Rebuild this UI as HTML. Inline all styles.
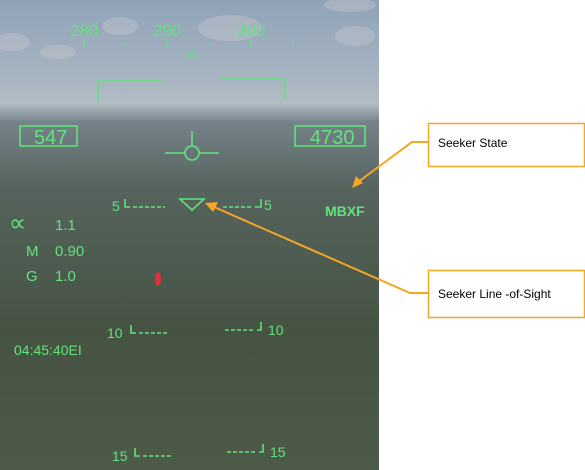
<!DOCTYPE html>
<html><head><meta charset="utf-8"><style>
html,body{margin:0;padding:0;background:#fff;width:585px;height:470px;overflow:hidden}
svg{display:block}
text{font-family:"Liberation Sans",sans-serif}
.h{fill:#62e27c;font-family:"Liberation Sans",sans-serif}
.hl{stroke:#62e27c;fill:none;stroke-width:1.6}
.lab{font-size:12px;fill:#000}
</style></head><body>
<svg width="585" height="470">
<defs>
<linearGradient id="bg" x1="0" y1="0" x2="0" y2="1">
<stop offset="0" stop-color="#8fa3b8"/>
<stop offset="0.18" stop-color="#aab6c2"/>
<stop offset="0.22" stop-color="#b2bcc3"/>
<stop offset="0.26" stop-color="#75838a"/>
<stop offset="0.4" stop-color="#56645e"/>
<stop offset="0.7" stop-color="#465343"/>
<stop offset="1" stop-color="#4d5a48"/>
</linearGradient>
</defs>
<rect x="0" y="0" width="379" height="470" fill="url(#bg)"/>
<g fill="#c4c4cc" opacity="0.45">
<ellipse cx="120" cy="26" rx="18" ry="9"/><ellipse cx="230" cy="28" rx="32" ry="13"/><ellipse cx="12" cy="42" rx="18" ry="9"/><ellipse cx="58" cy="52" rx="18" ry="7"/><ellipse cx="355" cy="36" rx="20" ry="10"/><ellipse cx="350" cy="5" rx="26" ry="7"/>
</g>
<g>
<text class="h" x="70" y="36" font-size="17">280</text>
<text class="h" x="153" y="36" font-size="17">290</text>
<text class="h" x="237" y="36" font-size="17">300</text>
<path class="hl" d="M84 40v7M126 43v3M167 40v7M209 43v3M251 40v7M293 43v3M188 57l4-6l4 6"/>
</g>
<path class="hl" d="M98 101v-20h64M220 79h65v20"/>
<g><rect class="hl" x="20" y="126" width="57" height="20"/><text class="h" x="34" y="144" font-size="20">547</text></g>
<g><rect class="hl" x="295" y="126" width="70" height="20"/><text class="h" x="310" y="144" font-size="20">4730</text></g>
<g><circle class="hl" cx="192" cy="153" r="7"/><path class="hl" d="M165 153h20M199 153h20M192 146v-15"/></g>
<g>
<text class="h" x="112" y="211" font-size="14">5</text><path class="hl" d="M125 199v8h5"/><path class="hl" d="M133 207h32" stroke-dasharray="4 2"/>
<path class="hl" d="M223 207h30" stroke-dasharray="4 2"/><path class="hl" d="M255 207h6v-8"/><text class="h" x="264" y="210" font-size="14">5</text>
<text class="h" x="107" y="338" font-size="14">10</text><path class="hl" d="M131 325v8h5"/><path class="hl" d="M139 333h30" stroke-dasharray="4 2"/>
<path class="hl" d="M225 330h30" stroke-dasharray="4 2"/><path class="hl" d="M257 330h4v-8"/><text class="h" x="268" y="335" font-size="14">10</text>
<text class="h" x="112" y="461" font-size="14">15</text><path class="hl" d="M135 448v8h5"/><path class="hl" d="M143 456h30" stroke-dasharray="4 2"/>
<path class="hl" d="M227 452h30" stroke-dasharray="4 2"/><path class="hl" d="M259 452h4v-8"/><text class="h" x="270" y="457" font-size="14">15</text>
</g>
<path class="hl" d="M180 199h24l-12 11z"/>
<text class="h" x="325" y="216" font-size="14" font-weight="bold">MBXF</text>
<g>
<text class="h" x="9" y="231" font-size="24">∝</text><text class="h" x="55" y="230" font-size="15">1.1</text>
<text class="h" x="26" y="256" font-size="15">M</text><text class="h" x="55" y="256" font-size="15">0.90</text>
<text class="h" x="26" y="281" font-size="15">G</text><text class="h" x="55" y="281" font-size="15">1.0</text>
<text class="h" x="14" y="355" font-size="14">04:45:40EI</text>
</g>
<ellipse cx="158" cy="279" rx="3" ry="7" fill="#e03040"/>
<g>
<path d="M428 142h-16L358 182" stroke="#f5a623" stroke-width="2" fill="none"/>
<path d="M352 188l4-12l7 7z" fill="#f5a623"/>
<rect x="428.5" y="123.5" width="156" height="43" fill="#fff" stroke="#f5a623" stroke-width="1.5"/>
<text class="lab" x="438" y="147">Seeker State</text>
</g>
<g>
<path d="M428 293h-18L214 207" stroke="#f5a623" stroke-width="2" fill="none"/>
<path d="M205 203l13-1l-5 10z" fill="#f5a623"/>
<rect x="428.5" y="270.5" width="156" height="47" fill="#fff" stroke="#f5a623" stroke-width="1.5"/>
<text class="lab" x="438" y="298">Seeker Line -of-Sight</text>
</g>
</svg>
</body></html>
